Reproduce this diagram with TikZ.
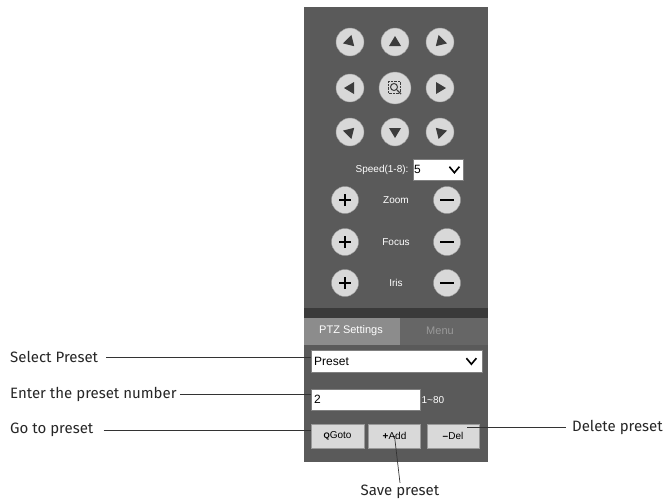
\documentclass[tikz,border=0pt]{standalone}
\usepackage{fontspec}
\setmainfont{Liberation Sans}
\newfontfamily\callfont{Fira Sans}
\usetikzlibrary{positioning,calc}
\definecolor{panel}{HTML}{5A5A5A}
\definecolor{band}{HTML}{3A3A3A}
\definecolor{knob}{HTML}{D8D8D8}
\definecolor{glyph}{HTML}{3C3C3C}
\tikzset{
  knob/.style={circle, fill=knob, draw=black!40, minimum size=28pt, inner sep=0pt},
  ui/.style={text=white, font=\fontsize{10}{11}\selectfont},
  field/.style={fill=white, draw=black!50, anchor=north west, inner sep=0pt},
  btn/.style={fill=black!15, draw=black!40, minimum width=52pt, minimum height=24pt, inner sep=0pt, font=\fontsize{10}{11}\selectfont},
  lbl/.style={font=\callfont\fontsize{15}{17}\selectfont, text=black!85, inner sep=2pt},
  lead/.style={draw=black!80, line width=0.7pt},
  chev/.style={draw=black, line width=1.6pt}
}
\begin{document}
\begin{tikzpicture}[x=1pt,y=-1pt]
\useasboundingbox (0,0) rectangle (665,501);
% panel
\fill[panel] (304,7) rectangle (488,462);
\fill[band] (304,308) rectangle (488,318);
\fill[black!45] (304,318) rectangle (400,345);
\fill[black!60] (400,318) rectangle (488,345);
% direction pad
\foreach \n/\x/\y/\dx/\dy in {ul/350/42/0.707/0.707, up/395/42/0/-1, ur/440/42/-0.707/0.707,
                        lt/350/88/-1/0, rt/440/88/1/0,
                        dl/350/132/0.707/-0.707, dn/395/132/0/1, dr/440/132/-0.707/-0.707}{
  \node[knob] (\n) at (\x,\y) {};
  \fill[glyph] ($(\n.center)+(6*\dx,6*\dy)$) -- ($(\n.center)+(-4*\dx-6*\dy,-4*\dy+6*\dx)$)
      -- ($(\n.center)+(-4*\dx+6*\dy,-4*\dy-6*\dx)$) -- cycle;
}
\node[knob, minimum size=32pt] (ctr) at (395,88) {};
\draw[glyph, densely dotted] ([shift={(-7,-7)}]ctr.center) rectangle ([shift={(5,5)}]ctr.center);
\draw[glyph, line width=1pt] ([shift={(-1,-1)}]ctr.center) circle (3.5);
\draw[glyph, line width=1.4pt] ([shift={(2,2)}]ctr.center) -- ([shift={(6,6)}]ctr.center);
% speed
\node[ui, anchor=east] (speed) at (412,170) {Speed(1-8):};
\node[field, minimum width=50pt, minimum height=21pt] (spbox) at (413,159) {};
\node[anchor=west, font=\fontsize{12}{13}\selectfont, inner sep=1pt] at (spbox.west) {5};
\draw[chev] ([shift={(-14,-3)}]spbox.east) -- ([shift={(-9,3)}]spbox.east) -- ([shift={(-4,-3)}]spbox.east);
% zoom focus iris
\foreach \n/\t/\y in {zm/Zoom/200, fc/Focus/242, ir/Iris/283}{
  \node[knob, minimum size=27pt] (\n p) at (345,\y) {};
  \node[knob, minimum size=27pt] (\n m) at (447,\y) {};
  \draw[black, line width=1.8pt] ([xshift=-6]\n p.center) -- ([xshift=6]\n p.center)
        ([yshift=-6]\n p.center) -- ([yshift=6]\n p.center);
  \draw[black, line width=1.8pt] ([xshift=-7]\n m.center) -- ([xshift=7]\n m.center);
  \node[ui] at (396,\y) {\t};
}
% tabs
\node[ui, font=\fontsize{11}{12}\selectfont] at (351,331) {PTZ Settings};
\node[text=black!40, font=\fontsize{11}{12}\selectfont] at (440,331) {Menu};
% preset fields
\node[field, minimum width=171pt, minimum height=22pt] (preset) at (311,350) {};
\node[anchor=west, font=\fontsize{12}{13}\selectfont, inner sep=3pt] at (preset.west) {Preset};
\draw[chev] ([shift={(-16,-3)}]preset.east) -- ([shift={(-11,3)}]preset.east) -- ([shift={(-6,-3)}]preset.east);
\node[field, minimum width=109pt, minimum height=21pt] (num) at (311,389) {};
\node[anchor=west, font=\fontsize{12}{13}\selectfont, inner sep=3pt] at (num.west) {2};
\node[ui, anchor=west, inner sep=1pt] at (num.east) {1\textasciitilde80};
\node[btn, minimum width=53pt] (goto) at (337.5,436) {\textbf{\fontsize{8}{9}\selectfont Q}Goto};
\node[btn] (add) at (394.5,436) {\textbf{+}Add};
\node[btn] (del) at (453,436) {\textbf{--}Del};
% callouts
\node[lbl, anchor=west] (selp) at (8,357) {Select Preset};
\node[lbl, anchor=west] (ent) at (8,394) {Enter the preset number};
\node[lbl, anchor=west] (go) at (8,430) {Go to preset};
\node[lbl, anchor=east] (dlt) at (665,427) {Delete preset};
\node[lbl] (sav) at (400,492) {Save preset};
\draw[lead] (selp.east) ++(6,0) -- (preset.west |- selp.east);
\draw[lead] (ent.east) ++(1,0) -- (num.west |- ent.east);
\draw[lead] (go.east) ++(8,0) -- (goto.west |- go.east);
\draw[lead] ([xshift=-4]dlt.west) -- ([xshift=-12]del.east |- dlt.west);
\draw[lead] (add.center) -- (sav.north);
\end{tikzpicture}
\end{document}
